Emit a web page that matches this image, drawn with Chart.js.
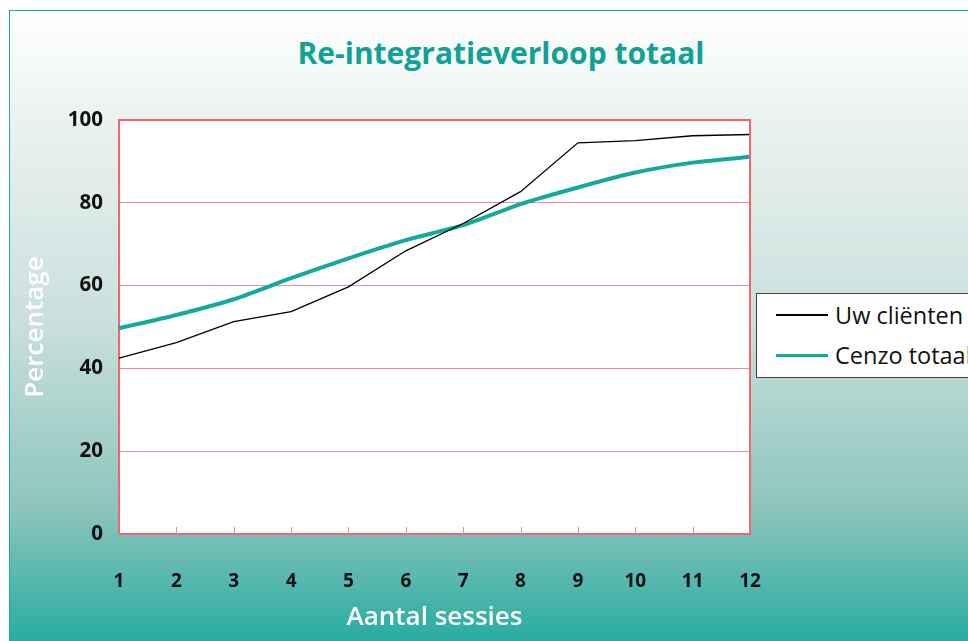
<!DOCTYPE html>
<html>
<head>
<meta charset="utf-8">
<script src="https://cdn.jsdelivr.net/npm/chart.js@4"></script>
<style>
  html, body { margin: 0; padding: 0; background: #fff; overflow: hidden; }
  #frame {
    position: absolute; left: 9px; top: 10px; width: 990px; height: 660px;
    border: 1px solid #1aa99b;
    background: linear-gradient(to bottom, #ffffff 0%, #e9f1f0 18%, #c8dfdb 48%, #8ec5bd 75%, #12a79a 100%);
  }
  #title {
    position: absolute; left: 0; top: 33px; width: 1002px; text-align: center;
    font-family: "Open Sans", sans-serif; font-weight: bold; font-size: 30px; line-height: 40px; color: #10a296;
  }
  #wrap { position: absolute; left: 0; top: 0; width: 968px; height: 641px; }
  #legend {
    position: absolute; left: 756px; top: 293px; width: 260px; height: 85px;
    background: #fff; border: 1.5px solid #444; box-sizing: border-box;
    font-family: "Open Sans", sans-serif; font-size: 23.5px; color: #111;
  }
  .leg-item { position: absolute; left: 19px; height: 32px; display: flex; align-items: center; white-space: nowrap; }
  .leg-line { width: 52px; margin-right: 7px; }
</style>
</head>
<body>
<div id="frame"></div>
<div id="title">Re-integratieverloop totaal</div>
<div id="wrap"><canvas id="chart" width="968" height="641"></canvas></div>
<div id="legend"></div>
<script>
const sessies = ['1', '2', '3', '4', '5', '6', '7', '8', '9', '10', '11', '12'];
const uwClienten = [42.5, 46.2, 51.3, 53.7, 59.7, 68.4, 75.0, 82.7, 94.5, 95.0, 96.2, 96.5];
const cenzoTotaal = [49.7, 52.9, 56.7, 61.8, 66.6, 71.0, 74.6, 79.7, 83.7, 87.3, 89.7, 91.1];
const yTicks = [0, 20, 40, 60, 80, 100];

const RED = '#f5636f';
const GRID = '#f48892';
const TEAL = '#13a99b';

// white plot area + top/right frame + small inner ticks on the x axis
const plotFrame = {
  id: 'plotFrame',
  beforeDatasetsDraw(chart) {
    const { ctx, chartArea: a } = chart;
    ctx.save();
    ctx.globalCompositeOperation = 'destination-over';
    ctx.fillStyle = '#fff';
    ctx.fillRect(a.left, a.top, a.right - a.left, a.bottom - a.top);
    ctx.restore();
  },
  afterDraw(chart) {
    const { ctx, chartArea: a, scales: { x } } = chart;
    ctx.save();
    ctx.strokeStyle = RED;
    ctx.lineWidth = 2;
    ctx.beginPath();
    ctx.moveTo(a.left, a.top);
    ctx.lineTo(a.right, a.top);
    ctx.lineTo(a.right, a.bottom);
    ctx.stroke();
    ctx.strokeStyle = GRID;
    ctx.lineWidth = 1;
    sessies.forEach((s, i) => {
      if (i === 0 || i === sessies.length - 1) return;
      const px = Math.round(x.getPixelForValue(i)) + 0.5;
      ctx.beginPath();
      ctx.moveTo(px, a.bottom);
      ctx.lineTo(px, a.bottom - 7);
      ctx.stroke();
    });
    ctx.restore();
  }
};

const chart = new Chart(document.getElementById('chart'), {
  type: 'line',
  data: {
    labels: sessies,
    datasets: [
      { label: 'Uw cliënten', data: uwClienten, borderColor: '#000', borderWidth: 1.3, pointRadius: 0, tension: 0 },
      { label: 'Cenzo totaal', data: cenzoTotaal, borderColor: TEAL, borderWidth: 4, pointRadius: 0, tension: 0.2 }
    ]
  },
  options: {
    responsive: false, animation: false,
    layout: { padding: { left: 10, right: 218, top: 120, bottom: 0 } },
    plugins: {
      legend: { display: false },
      tooltip: { enabled: false },
      title: { display: false }
    },
    scales: {
      x: {
        offset: false,
        grid: { display: false },
        border: { color: RED, width: 2 },
        ticks: { color: '#111', padding: 28, maxRotation: 0, font: { family: 'Open Sans', size: 19, weight: 'bold' } },
        title: {
          display: true, text: 'Aantal sessies', color: '#fff',
          font: { family: 'Open Sans', size: 26, weight: '600', lineHeight: 1.2 },
          padding: { top: 0, bottom: 8 }
        },
        afterFit(scale) { scale.height = 641 - 534; }
      },
      y: {
        min: 0, max: 100,
        afterBuildTicks(scale) { scale.ticks = yTicks.map(v => ({ value: v })); },
        grid: { color: GRID, lineWidth: 1, drawTicks: false },
        border: { color: RED, width: 2 },
        ticks: { color: '#111', padding: 16, font: { family: 'Open Sans', size: 20.5, weight: 'bold' } },
        title: {
          display: true, text: 'Percentage', color: '#fff',
          font: { family: 'Open Sans', size: 26, weight: '600', lineHeight: 1.2 },
          padding: { top: 10, bottom: 0 }
        },
        afterFit(scale) { scale.width = 119 - 10; }
      }
    }
  },
  plugins: [plotFrame]
});

// legend box, partly running off the right edge like the original
document.getElementById('legend').innerHTML = chart.data.datasets.map((d, i) => `
  <div class="leg-item" style="top:${5 + i * 40}px">
    <div class="leg-line" style="height:${d.borderWidth === 4 ? 3 : 1.5}px;background:${d.borderColor}"></div>${d.label}
  </div>`).join('');
</script>
</body>
</html>
